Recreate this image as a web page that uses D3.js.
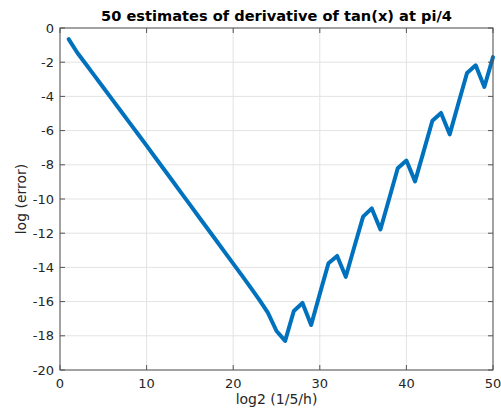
<!DOCTYPE html>
<html lang="en">
<head>
<meta charset="utf-8">
<title>Derivative estimates</title>
<script src="https://d3js.org/d3.v7.min.js"></script>
<style>
  body { margin: 0; background: #fff; }
  text { font-family: "DejaVu Sans", sans-serif; fill: #262626; }
  .grid line { stroke: #e3e3e3; stroke-width: 1; }
  .frame { fill: none; stroke: #555; stroke-width: 1; }
  .tick-mark { stroke: #555; stroke-width: 1; }
  .series { fill: none; stroke: #0072bd; stroke-width: 4; stroke-linejoin: round; stroke-linecap: round; }
</style>
</head>
<body>
<script>
// k = log2(1/5/h)
var steps = d3.range(1, 51);
var logError = [
  -0.65, -1.45, -2.12, -2.80, -3.48, -4.16, -4.84, -5.52, -6.20, -6.88,
  -7.57, -8.26, -8.95, -9.64, -10.33, -11.02, -11.71, -12.40, -13.09, -13.78,
  -14.47, -15.17, -15.88, -16.65, -17.72, -18.30, -16.55, -16.08, -17.37, -15.55,
  -13.76, -13.33, -14.55, -12.78, -11.03, -10.55, -11.78, -10.00, -8.20, -7.75,
  -8.97, -7.20, -5.42, -4.97, -6.22, -4.42, -2.63, -2.18, -3.45, -1.70
];
var xTicks = [0, 10, 20, 30, 40, 50];
var yTicks = [-20, -18, -16, -14, -12, -10, -8, -6, -4, -2, 0];

var width = 501, height = 411;
var margin = {top: 28, right: 8, bottom: 41, left: 60};
var plotW = width - margin.left - margin.right;
var plotH = height - margin.top - margin.bottom;

var svg = d3.select("body").append("svg")
    .attr("width", width)
    .attr("height", height);

var g = svg.append("g")
    .attr("transform", "translate(" + margin.left + "," + margin.top + ")");

var x = d3.scaleLinear().domain([0, 50]).range([0, plotW]);
var y = d3.scaleLinear().domain([-20, 0]).range([plotH, 0]);

// grid
var grid = g.append("g").attr("class", "grid");
grid.selectAll(".gx").data(xTicks).enter().append("line")
    .attr("x1", x).attr("x2", x).attr("y1", 0).attr("y2", plotH);
grid.selectAll(".gy").data(yTicks).enter().append("line")
    .attr("y1", y).attr("y2", y).attr("x1", 0).attr("x2", plotW);

// data line
var line = d3.line()
    .x(function(d, i) { return x(steps[i]); })
    .y(function(d) { return y(d); });

g.append("path")
    .datum(logError)
    .attr("class", "series")
    .attr("d", line);

// box and inward ticks
g.append("rect")
    .attr("class", "frame")
    .attr("x", 0).attr("y", 0)
    .attr("width", plotW).attr("height", plotH);

var tl = 5;
xTicks.forEach(function(t) {
  g.append("line").attr("class", "tick-mark")
    .attr("x1", x(t)).attr("x2", x(t)).attr("y1", plotH).attr("y2", plotH - tl);
  g.append("line").attr("class", "tick-mark")
    .attr("x1", x(t)).attr("x2", x(t)).attr("y1", 0).attr("y2", tl);
});
yTicks.forEach(function(t) {
  g.append("line").attr("class", "tick-mark")
    .attr("y1", y(t)).attr("y2", y(t)).attr("x1", 0).attr("x2", tl);
  g.append("line").attr("class", "tick-mark")
    .attr("y1", y(t)).attr("y2", y(t)).attr("x1", plotW).attr("x2", plotW - tl);
});

// tick labels
g.selectAll(".xl").data(xTicks).enter().append("text")
    .attr("x", x)
    .attr("y", plotH + 18)
    .attr("text-anchor", "middle")
    .style("font-size", "13px")
    .text(function(d) { return d; });

g.selectAll(".yl").data(yTicks).enter().append("text")
    .attr("x", -6)
    .attr("y", function(d) { return y(d) + 4.5; })
    .attr("text-anchor", "end")
    .style("font-size", "13px")
    .text(function(d) { return d; });

// axis labels and title
svg.append("text")
    .attr("x", margin.left + plotW / 2)
    .attr("y", height - 7)
    .attr("text-anchor", "middle")
    .style("font-size", "14px")
    .text("log2 (1/5/h)");

svg.append("text")
    .attr("transform", "translate(26," + (margin.top + plotH / 2) + ") rotate(-90)")
    .attr("text-anchor", "middle")
    .style("font-size", "14px")
    .text("log (error)");

svg.append("text")
    .attr("x", margin.left + plotW / 2)
    .attr("y", 21)
    .attr("text-anchor", "middle")
    .style("font-size", "14.6px")
    .style("font-weight", "bold")
    .style("fill", "#000")
    .text("50 estimates of derivative of tan(x) at pi/4");
</script>
</body>
</html>
